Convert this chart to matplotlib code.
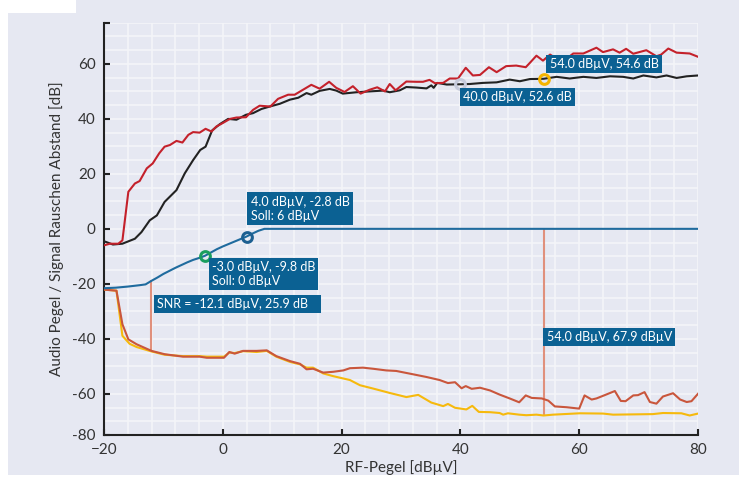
import matplotlib
matplotlib.use('Agg')
import matplotlib.pyplot as plt
from matplotlib.patches import Rectangle
from matplotlib.ticker import MultipleLocator

plt.rcParams['font.family'] = ['Lato', 'DejaVu Sans']

# upper curves (dB)
red_x = [-20, -19, -17.6, -16.9, -15.9, -14.8, -14, -12.8, -11.8, -10.7, -9.8, -8.9, -7.8, -6.8, -5.8, -5,
         -3.9, -2.9, -1.9, -1.1, 0, 1.2, 2.3, 3.9, 5.1, 6.2, 8, 9.3, 11, 12.1, 13.5, 14.9, 16.3, 17.9, 19.1,
         20.5, 21.9, 23.2, 24.7, 26, 27.3, 28.1, 29.1, 30.9, 32.6, 33.7, 34.8, 35.7, 37.1, 38.2, 39.6, 40.9,
         42.1, 43.3, 44.8, 46.1, 47.7, 49.4, 51, 51.7, 52.8, 53.9, 55.1, 56.2, 57.9, 59, 60.7, 62.9, 64, 65.7,
         66.8, 67.9, 69.1, 71.3, 73, 73.8, 75, 76.4, 78.6, 80]
red_y = [-6.0, -5.4, -5.4, -4.2, 13.5, 16.5, 17.4, 22, 23.8, 27.5, 29.9, 30.5, 32, 31.4, 34.2, 35.2,
         35, 36.4, 35.4, 37.2, 38.5, 40, 40.5, 40.6, 43.3, 44.8, 44.5, 47.3, 48.8, 48.8, 50.6, 52.4, 51, 53.5, 51.3,
         49.8, 51.9, 49.2, 50.6, 51.5, 50, 52.7, 50.4, 53.6, 53.5, 53.5, 54.2, 53, 53.1, 54.7, 54.7, 58.6,
         55.8, 56, 58.8, 57, 59.2, 59.4, 58.8, 60.4, 63, 61.2, 63.4, 61.9, 61.9, 63.8, 63.8, 65.9, 64.3, 65.3,
         64.1, 65.5, 63.7, 65, 62.8, 63.4, 65.6, 64.1, 63.8, 62.6]

black_x = [-20, -18.5, -16.9, -14.8, -13.7, -12.3, -11.1, -9.8, -7.8, -6.4, -5, -3.8, -2.9, -1.8, -0.5, 0.9,
           2.3, 3.9, 5.1, 6.5, 7.9, 9.6, 11.3, 12.7, 14.1, 14.9, 16.3, 18, 19.1, 20.2, 22.5, 24.7, 27, 28.1,
           29.8, 30.9, 32.6, 34.3, 35.1, 35.5, 36.1, 37.7, 40, 41.6, 43.8, 46.1, 48.3, 50, 51.7, 54, 56.2, 58.4,
           60.7, 62.9, 65.2, 67.4, 69.1, 70.8, 73, 74.7, 76.4, 78.1, 80]
black_y = [-4.5, -5.7, -5.4, -3.6, -1.2, 3.1, 4.9, 9.8, 14.1, 20.2, 25, 28.7, 29.9, 35.8, 38.1, 40,
           39.7, 41.5, 42.1, 43.6, 44.5, 45.5, 47, 47.7, 49.4, 48.8, 50.2, 50.9, 50.3, 49.2, 49.7, 50, 50.3, 49.7,
           50.4, 51.6, 51.4, 51.1, 52.2, 51.3, 53.1, 52.5, 52.6, 52.7, 53.1, 53.3, 54.3, 53.7, 54.5, 54.6, 55.3, 54.7,
           55.3, 54.9, 55.5, 55.3, 54.7, 55.8, 55.1, 55.8, 54.9, 55.5, 55.8]

blue_x = [-20, -18, -16, -14, -13, -12, -11, -10, -9, -8, -7, -6, -5, -4, -3, -2, -1, 0, 1, 2, 3, 4, 5, 6, 7, 80]
blue_y = [-21.6, -21.4, -21, -20.5, -20.2, -18.9, -17.7, -16.4, -15.3, -14.2, -13.2, -12.2, -11.3, -10.6, -9.8,
          -8.6, -7.4, -6.4, -5.5, -4.6, -3.7, -2.8, -1.7, -0.7, 0, 0]

# lower curves (noise)
orange_x = [-20, -17.9, -16.9, -15.9, -14.5, -12, -9.8, -6.7, -3.9, -2.7, 0.2, 1.1, 2, 3.4, 5.7, 7.4, 9, 11.3,
            13, 14.1, 15.2, 16.9, 18.6, 20.3, 21.4, 23.6, 25.3, 27.5, 29.2, 32, 34.3, 36.5, 37.9, 39.1, 40.2,
            40.9, 41.9, 43.3, 45, 46.6, 48.3, 49.9, 51, 52, 53.7, 54.8, 55.9, 57.9, 60, 60.9, 62.1, 62.9, 64.3,
            66, 67, 67.8, 69.1, 69.9, 71, 71.9, 73, 74.1, 75.8, 77, 78.1, 78.9, 80]
orange_y = [-22.1, -22.5, -34.7, -40.2, -42, -44.4, -45.6, -46.5, -46.5, -46.9, -46.9, -44.8, -45.4, -44.4,
            -44.4, -44.2, -46.3, -48.1, -49.1, -51.1, -50.9, -52.3, -52, -51.5, -50.7, -50.5, -50.9, -51.5, -51.7,
            -52.9, -53.9, -55, -56.1, -55.8, -58, -57.2, -58.2, -57.8, -58.8, -60.3, -61.7, -63.1, -60.6, -61.5,
            -61.7, -62.5, -64.6, -64.9, -65.4, -60.6, -62.1, -61.7, -60.5, -59, -62.6, -62.7, -60.6, -60.5, -59.4,
            -63, -63.6, -61, -59.8, -62.1, -63, -62.7, -60]

yellow_x = [-20, -17.9, -16.9, -15.7, -14.5, -12, -9.8, -6.7, -3.9, -2.7, 0.2, 1.1, 2, 3.4, 5.7, 7.4, 9, 11.3,
            13, 14.1, 15.2, 16.9, 18.6, 21.4, 23.1, 25.3, 28.1, 30.9, 32.9, 35.1, 37.1, 37.9, 39.1, 41, 42, 43.1,
            45, 46.6, 47.2, 48, 49.9, 51.1, 52.8, 54, 55.6, 60.1, 64, 65.7, 72.4, 74.1, 77.2, 78.6, 80]
yellow_y = [-22.1, -22.5, -38.9, -41.8, -43, -44.6, -45.8, -46.3, -46.3, -46.5, -46.5, -45, -45.2, -44.5,
            -44.8, -44.4, -46.5, -48.4, -49.3, -50.5, -50.5, -52.6, -53.6, -55, -56.9, -58.1, -59.7, -61.2, -60.4,
            -63.2, -64.5, -63.7, -65.1, -65.7, -64.4, -66.6, -66.7, -67, -67.6, -67.1, -67.6, -67.8, -67.6, -67.9,
            -67.6, -67.1, -67.2, -67.6, -67.4, -67, -67.1, -67.9, -67.2]

# markers and measurement lines
snr_x, snr_top, snr_bottom = -12.1, -18.7, -44.6
cut_x, cut_top, cut_bottom = 54.0, 0.0, -67.9

BG = '#e6e8f2'
BOX = '#0b6193'

fig = plt.figure(figsize=(7.39, 4.79), dpi=100)
fig.patch.set_facecolor('white')
fig.add_artist(Rectangle((8 / 739, 4 / 479), 731 / 739, 475 / 479, transform=fig.transFigure,
                         facecolor=BG, edgecolor='none', zorder=-10))
fig.add_artist(Rectangle((0, 466 / 479), 76 / 739, 13 / 479, transform=fig.transFigure,
                         facecolor='white', edgecolor='none', zorder=-9))

ax = fig.add_axes([104 / 739, 44 / 479, 594 / 739, 412.3 / 479])
ax.set_facecolor('none')

ax.plot(yellow_x, yellow_y, color='#f6b90d', lw=1.5, zorder=3)
ax.plot(orange_x, orange_y, color='#c9563c', lw=1.5, zorder=3)
ax.plot(blue_x, blue_y, color='#1f6b9e', lw=1.5, zorder=3)
ax.plot(black_x, black_y, color='#222222', lw=1.5, zorder=3)
ax.plot(red_x, red_y, color='#c4212b', lw=1.5, zorder=3)

ax.vlines(snr_x, snr_bottom, snr_top, color='#e0907c', lw=1.5, zorder=2)
ax.vlines(cut_x, cut_bottom, cut_top, color='#e0907c', lw=1.5, zorder=2)

ax.plot([40], [52.6], 'o', ms=7, mfc='none', mec='#c5cadb', mew=2.2, zorder=4)
ax.plot([54], [54.6], 'o', ms=7, mfc='none', mec='#f5b400', mew=2.2, zorder=4)
ax.plot([-3], [-9.8], 'o', ms=7, mfc='none', mec='#1b9e5e', mew=2.2, zorder=4)
ax.plot([4], [-2.8], 'o', ms=7, mfc='none', mec='#1c5f91', mew=2.2, zorder=4)

box = dict(boxstyle='square,pad=0.25', fc=BOX, ec='none')
kw = dict(textcoords='offset pixels', color='white', fontsize=9, bbox=box, zorder=5, ha='left')
ax.annotate('54.0 dBµV, 54.6 dB', (54, 54.6), xytext=(6, 9), va='bottom', **kw)
ax.annotate('40.0 dBµV, 52.6 dB', (40, 52.6), xytext=(3, -7), va='top', **kw)
ax.annotate('4.0 dBµV, -2.8 dB\nSoll: 6 dBµV', (4, -2.8), xytext=(4, 15), va='bottom', **kw)
ax.annotate('-3.0 dBµV, -9.8 dB\nSoll: 0 dBµV', (-3, -9.8), xytext=(7, -5), va='top', **kw)
ax.annotate('SNR = -12.1 dBµV, 25.9 dB   ', (snr_x, snr_top), xytext=(6, -18), va='top', **kw)
ax.annotate('54.0 dBµV, 67.9 dBµV', (cut_x, cut_top), xytext=(3, -102), va='top', **kw)

ax.set_xlim(-20, 80)
ax.set_ylim(-75, 75)
ax.set_xticks([-20, 0, 20, 40, 60, 80])
ax.set_yticks([-75, -60, -40, -20, 0, 20, 40, 60, 75])
ax.set_yticklabels(['-80', '-60', '-40', '-20', '0', '20', '40', '60', ''])
ax.xaxis.set_minor_locator(MultipleLocator(4))
ax.yaxis.set_minor_locator(MultipleLocator(5))
ax.tick_params(which='major', direction='in', length=4, width=1.5, color='#222222',
               labelsize=11, labelcolor='#333333', pad=6)
ax.tick_params(which='minor', length=0)
ax.grid(which='both', color='#f4f5f9', lw=1.2, zorder=0)
ax.set_axisbelow(True)

for s in ['top', 'right']:
    ax.spines[s].set_visible(False)
for s in ['left', 'bottom']:
    ax.spines[s].set_linewidth(1.5)
    ax.spines[s].set_color('#222222')

ax.set_xlabel('RF-Pegel [dBµV]', fontsize=11, color='#333333', labelpad=2)
ax.set_ylabel('Audio Pegel / Signal Rauschen Abstand [dB]', fontsize=11, color='#333333', labelpad=6)

fig.savefig('out.png', dpi=100)
